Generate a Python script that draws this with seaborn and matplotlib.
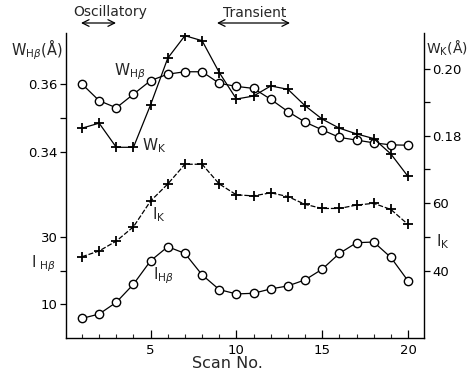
import matplotlib
matplotlib.use("Agg")
import matplotlib.pyplot as plt
import seaborn as sns
import pandas as pd
from matplotlib.ticker import FixedLocator, MultipleLocator

sns.set_theme(style="white")
plt.rcParams['font.family'] = ['DejaVu Sans']
plt.rcParams['mathtext.fontset'] = 'dejavusans'

scans = list(range(1, 21))
w_hbeta = [0.360, 0.3551, 0.353, 0.357, 0.361, 0.3629, 0.3636, 0.3636, 0.3602, 0.3593,
           0.3587, 0.3555, 0.3519, 0.3488, 0.3465, 0.3443, 0.3435, 0.3427, 0.3421, 0.3420]
w_k = [0.1823, 0.1838, 0.1766, 0.1766, 0.1893, 0.2032, 0.2099, 0.2084, 0.1989, 0.1910,
       0.1919, 0.1949, 0.1939, 0.1890, 0.1850, 0.1823, 0.1806, 0.1792, 0.1746, 0.1679]
i_k = [44.2, 45.9, 48.8, 53.0, 60.6, 65.6, 71.4, 71.4, 65.6, 62.4,
       62.1, 63.0, 61.9, 59.6, 58.4, 58.4, 59.4, 59.9, 58.1, 53.7]
i_hbeta = [5.7, 7.0, 10.5, 15.9, 22.9, 27.1, 25.1, 18.7, 14.3, 13.0,
           13.2, 14.5, 15.4, 17.2, 20.4, 25.1, 28.3, 28.5, 23.9, 16.9]

df = pd.DataFrame({"scan": scans, "w_hb": w_hbeta, "w_k": w_k, "i_k": i_k, "i_hb": i_hbeta})

W, H = 470, 378
fig = plt.figure(figsize=(W / 100, H / 100), dpi=100)
ax1 = fig.add_axes([66 / W, 40 / H, 358 / W, 305 / H])
ax2 = ax1.twinx()
ax3 = ax1.twinx()
ax4 = ax1.twinx()

def px(x, y):
    return (x / W, 1 - y / H)

circ = dict(marker='o', markersize=6, markerfacecolor='white', markeredgecolor='black',
            markeredgewidth=1.0, color='black', linewidth=0.9)
plus = dict(marker='+', markersize=7, markeredgecolor='black', markeredgewidth=1.3,
            color='black', linewidth=0.9)

sns.lineplot(data=df, x="scan", y="w_hb", ax=ax1, **circ)
sns.lineplot(data=df, x="scan", y="i_hb", ax=ax2, **circ)
sns.lineplot(data=df, x="scan", y="w_k", ax=ax3, **plus)
sns.lineplot(data=df, x="scan", y="i_k", ax=ax4, dashes=False, linestyle=(0, (4, 1.5)), **plus)

ax1.set_xlim(0.07, 20.93)
ax1.set_ylim(0.2853, 0.375)
ax2.set_ylim(-0.15, 90.9)
ax3.set_ylim(0.1197, 0.2107)
ax4.set_ylim(20.3, 110)

for a in (ax1, ax2, ax3, ax4):
    a.set_xlabel("")
    a.set_ylabel("")
    a.patch.set_visible(False)
    a.spines['top'].set_visible(False)
    for s in a.spines.values():
        s.set_color('black')
        s.set_linewidth(1.0)

for a in (ax2, ax3, ax4):
    for s in a.spines.values():
        s.set_visible(False)
ax1.spines['right'].set_visible(True)

tick_kw = dict(labelsize=9.5, colors='black', width=0.9, length=4, direction='out', pad=2)
ax1.yaxis.set_ticks_position('left')
ax1.set_yticks([0.34, 0.35, 0.36])
ax1.set_yticklabels(['0.34', '', '0.36'])
ax1.tick_params(axis='y', which='major', left=True, **tick_kw)

ax2.yaxis.set_ticks_position('left')
ax2.yaxis.set_label_position('left')
ax2.set_yticks([10, 20, 30])
ax2.set_yticklabels(['10', '', '30'])
ax2.tick_params(axis='y', which='major', left=True, right=False, **tick_kw)

ax3.set_yticks([0.17, 0.18, 0.19, 0.20])
ax3.set_yticklabels(['', '0.18', '', '0.20'])
ax3.tick_params(axis='y', which='major', right=True, **tick_kw)

ax4.set_yticks([40, 50, 60])
ax4.set_yticklabels(['40', '', '60'])
ax4.tick_params(axis='y', which='major', right=True, **tick_kw)

ax1.xaxis.set_major_locator(FixedLocator([5, 10, 15, 20]))
ax1.xaxis.set_minor_locator(MultipleLocator(1))
ax1.tick_params(axis='x', which='major', bottom=True, direction='in', length=6, width=0.9,
                labelsize=9.5, colors='black', pad=4)
ax1.tick_params(axis='x', which='minor', bottom=True, direction='in', length=3, width=0.8)

fig.text(*px(227, 364), "Scan No.", ha='center', va='center', fontsize=11.5)
fig.text(*px(11, 50), r"W$_{\mathrm{H}\beta}$(Å)", ha='left', va='center', fontsize=10.5)
fig.text(*px(31, 264), r"I$_{\ \mathrm{H}\beta}$", ha='left', va='center', fontsize=11)
fig.text(*px(426, 48), r"W$_{\mathrm{K}}$(Å)", ha='left', va='center', fontsize=10)
fig.text(*px(436, 242), r"I$_{\mathrm{K}}$", ha='left', va='center', fontsize=11)

fig.text(*px(114, 72), r"W$_{\mathrm{H}\beta}$", ha='left', va='center', fontsize=11)
fig.text(*px(142, 146), r"W$_{\mathrm{K}}$", ha='left', va='center', fontsize=11)
fig.text(*px(152, 215), r"I$_{\mathrm{K}}$", ha='left', va='center', fontsize=11)
fig.text(*px(153, 276), r"I$_{\mathrm{H}\beta}$", ha='left', va='center', fontsize=11)

fig.text(*px(110, 12), "Oscillatory", ha='center', va='center', fontsize=10)
fig.text(*px(255, 13), "Transient", ha='center', va='center', fontsize=10)
ax1.annotate("", xy=px(116, 23), xytext=px(81, 23), xycoords='figure fraction',
             arrowprops=dict(arrowstyle='<->', color='black', lw=0.9, shrinkA=0, shrinkB=0))
ax1.annotate("", xy=px(290, 23), xytext=px(217, 23), xycoords='figure fraction',
             arrowprops=dict(arrowstyle='<->', color='black', lw=0.9, shrinkA=0, shrinkB=0))

fig.savefig("out.png", dpi=100)
